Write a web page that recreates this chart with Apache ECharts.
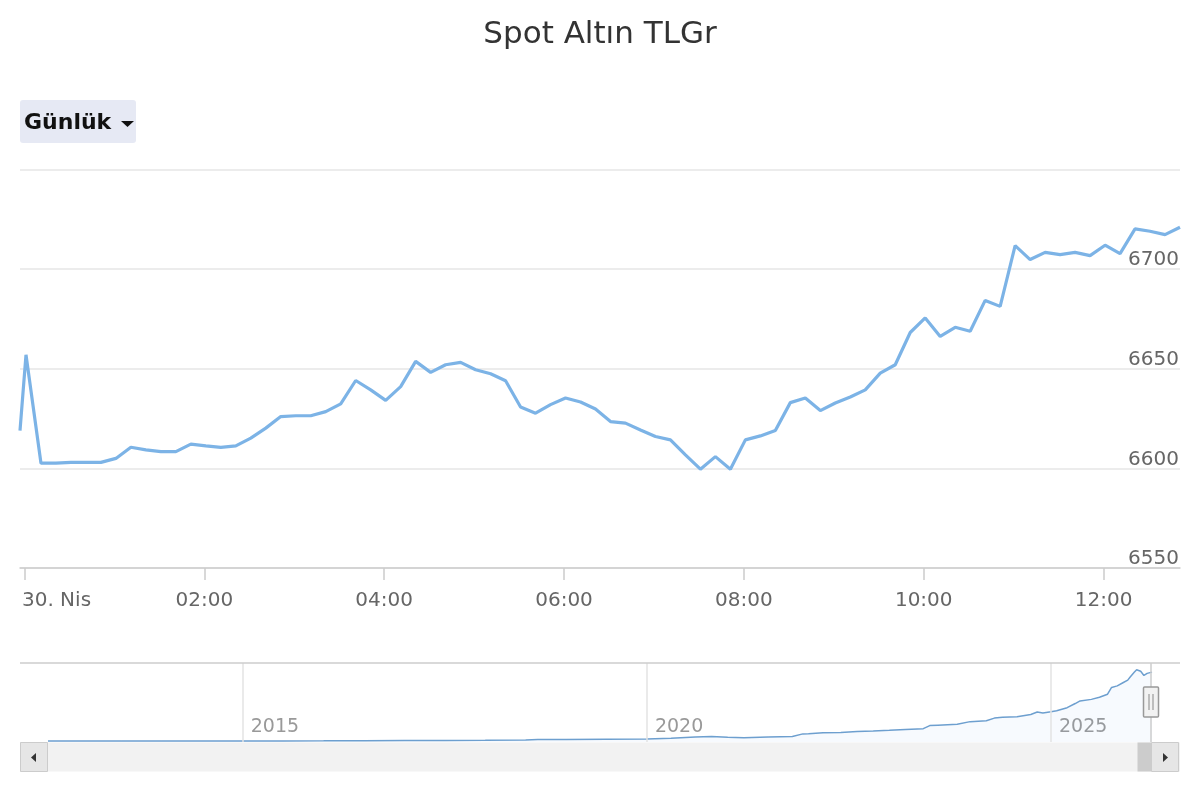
<!DOCTYPE html>
<html>
<head>
<meta charset="utf-8">
<script src="https://cdn.jsdelivr.net/npm/echarts@6/dist/echarts.min.js"></script>
<style>
  html, body { margin: 0; padding: 0; background: #ffffff; }
  #chart { width: 1200px; height: 800px; }
</style>
</head>
<body>
<div id="chart"></div>
<script>
// ---------- Data ----------
const chartTitle = 'Spot Altın TLGr';
const rangeButtonLabel = 'Günlük';

// intraday times (30 Nisan), 10-minute steps
const times = [
  '23:57',
  '00:01','00:11','00:21','00:31','00:41','00:51',
  '01:01','01:11','01:21','01:31','01:41','01:51',
  '02:01','02:11','02:21','02:31','02:41','02:51',
  '03:01','03:11','03:21','03:31','03:41','03:51',
  '04:01','04:11','04:21','04:31','04:41','04:51',
  '05:01','05:11','05:21','05:31','05:41','05:51',
  '06:01','06:11','06:21','06:31','06:41','06:51',
  '07:01','07:11','07:21','07:31','07:41','07:51',
  '08:01','08:11','08:21','08:31','08:41','08:51',
  '09:01','09:11','09:21','09:31','09:41','09:51',
  '10:01','10:11','10:21','10:31','10:41','10:51',
  '11:01','11:11','11:21','11:31','11:41','11:51',
  '12:01','12:11','12:21','12:31','12:41','12:51'
];
const prices = [
  6619,
  6657, 6602.6, 6602.6, 6603, 6603, 6603,
  6605, 6610.6, 6609.3, 6608.4, 6608.4, 6612.2,
  6611.3, 6610.5, 6611.3, 6615.2, 6620.2, 6626,
  6626.4, 6626.4, 6628.5, 6632.4, 6644.1, 6639.4,
  6634.1, 6641, 6653.7, 6648.2, 6652, 6653.2,
  6649.5, 6647.5, 6644, 6630.8, 6627.7, 6632,
  6635.3, 6633.3, 6629.8, 6623.5, 6622.7, 6619.3,
  6616, 6614.3, 6606.8, 6599.6, 6605.9, 6599.6,
  6614.3, 6616.3, 6619, 6633, 6635.3, 6629,
  6632.8, 6635.8, 6639.4, 6647.8, 6652, 6668.2,
  6675.5, 6666.2, 6670.8, 6668.8, 6684.3, 6681.3,
  6711.8, 6704.8, 6708.4, 6707.3, 6708.4, 6706.8,
  6712, 6707.8, 6720.2, 6719, 6717.3, 6721
];
const xTickTimes = ['00:00','02:00','04:00','06:00','08:00','10:00','12:00'];
const firstTickLabel = '30. Nis';
const yTicks = [6550, 6600, 6650, 6700, 6750];

// long-term navigator series (decimal years, TL/gram)
const navYears = [
  2012.59, 2013.0, 2013.5, 2014.0, 2014.5, 2015.0, 2015.5, 2016.0, 2016.5, 2017.0,
  2017.5, 2018.0, 2018.5, 2018.65, 2019.0, 2019.5, 2020.0, 2020.3, 2020.6, 2020.8,
  2021.0, 2021.2, 2021.5, 2021.8, 2021.93, 2022.0, 2022.18, 2022.4, 2022.6, 2022.8,
  2023.0, 2023.2, 2023.42, 2023.5, 2023.6, 2023.84, 2024.0, 2024.2, 2024.3, 2024.4,
  2024.58, 2024.75, 2024.83, 2024.9, 2025.0, 2025.07, 2025.2, 2025.3, 2025.36, 2025.5,
  2025.6, 2025.7, 2025.75, 2025.82, 2025.89, 2025.95, 2025.98, 2026.03, 2026.06, 2026.08,
  2026.11, 2026.15, 2026.19, 2026.25
];
const navValues = [
  100, 105, 95, 90, 92, 95, 100, 110, 130, 145,
  150, 165, 200, 250, 230, 270, 300, 360, 480, 520,
  450, 420, 470, 520, 780, 800, 900, 920, 1000, 1050,
  1120, 1200, 1280, 1580, 1620, 1700, 1960, 2050, 2300, 2380,
  2420, 2650, 2880, 2780, 2900, 3000, 3300, 3700, 3950, 4100,
  4300, 4600, 5250, 5400, 5700, 5950, 6250, 6700, 6950, 6980,
  6800, 6400, 6600, 6720
];
const navYearTicks = [2015, 2020, 2025];

// ---------- Helpers ----------
function toMinutes(t) {
  const p = t.split(':').map(Number);
  let m = p[0] * 60 + p[1];
  if (p[0] >= 20) m -= 1440; // previous day
  return m;
}
const mainData = times.map((t, i) => [toMinutes(t), prices[i]]);
const navData = navYears.map((y, i) => [y, navValues[i]]);
const xTickValues = xTickTimes.map(toMinutes);

const FONT = '"DejaVu Sans", "Lucida Grande", Arial, sans-serif';
const chart = echarts.init(document.getElementById('chart'), null, { renderer: 'canvas' });

const option = {
  animation: false,
  backgroundColor: '#ffffff',
  title: {
    text: chartTitle,
    left: 'center',
    top: 19,
    padding: 0,
    textStyle: { fontFamily: FONT, fontSize: 31, fontWeight: 'normal', color: '#333333' }
  },
  grid: [
    { left: 20, right: 20, top: 169.5, bottom: 232 },
    { left: 48, right: 48, top: 663, height: 79 }
  ],
  xAxis: [
    {
      type: 'value',
      gridIndex: 0,
      min: toMinutes(times[0]),
      max: toMinutes(times[times.length - 1]),
      axisLine: { show: true, lineStyle: { color: '#cccccc', width: 1.5 } },
      axisTick: { show: true, customValues: xTickValues, length: 12, lineStyle: { color: '#cccccc', width: 1.5 } },
      splitLine: { show: false },
      axisLabel: {
        customValues: xTickValues,
        margin: 23,
        color: '#666666',
        fontFamily: FONT,
        fontSize: 20,
        formatter: function (v) {
          if (v === 0) return '{first|' + firstTickLabel + '}';
          const h = Math.round(v / 60);
          return (h < 10 ? '0' + h : '' + h) + ':00';
        },
        rich: {
          first: { color: '#666666', fontFamily: FONT, fontSize: 20, padding: [0, 0, 0, 64] }
        }
      }
    },
    {
      type: 'value',
      gridIndex: 1,
      min: navYears[0],
      max: navYears[navYears.length - 1],
      axisLine: { show: false },
      axisTick: { show: false },
      splitLine: { show: false },
      axisLabel: {
        customValues: navYearTicks,
        inside: true,
        margin: 5,
        align: 'left',
        verticalAlign: 'bottom',
        padding: [0, 0, 0, 8],
        color: '#999999',
        fontFamily: FONT,
        fontSize: 19,
        formatter: function (v) { return String(Math.round(v)); }
      }
    }
  ],
  yAxis: [
    {
      type: 'value',
      gridIndex: 0,
      position: 'right',
      min: yTicks[0],
      max: yTicks[yTicks.length - 1],
      interval: 50,
      axisLine: { show: false },
      axisTick: { show: false },
      splitLine: { show: true, lineStyle: { color: '#e6e6e6', width: 1.5 } },
      axisLabel: {
        inside: true,
        margin: 1,
        verticalAlign: 'bottom',
        lineHeight: 18,
        color: '#666666',
        fontFamily: FONT,
        fontSize: 20,
        formatter: function (v) { return v === yTicks[yTicks.length - 1] ? '' : String(v); }
      }
    },
    {
      type: 'value',
      gridIndex: 1,
      min: 0,
      max: 7600,
      show: false,
      splitLine: { show: false }
    }
  ],
  series: [
    {
      type: 'line',
      xAxisIndex: 0,
      yAxisIndex: 0,
      data: mainData,
      showSymbol: false,
      symbol: 'none',
      lineStyle: { color: '#7cb3e6', width: 3.2 },
      itemStyle: { color: '#7cb3e6' },
      clip: true
    },
    {
      type: 'line',
      xAxisIndex: 1,
      yAxisIndex: 1,
      data: navData,
      showSymbol: false,
      symbol: 'none',
      lineStyle: { color: '#6d9fcf', width: 1.5 },
      areaStyle: { color: 'rgba(124,181,236,0.09)' },
      markLine: {
        silent: true,
        symbol: 'none',
        label: { show: false },
        lineStyle: { color: '#e3e3e3', width: 1.5, type: 'solid' },
        data: navYearTicks.map(y => ({ xAxis: y }))
      }
    }
  ],
  graphic: [
    // range selector dropdown
    { type: 'rect', shape: { x: 20, y: 100, width: 116, height: 43, r: 3 }, style: { fill: '#e6e9f4' } },
    { type: 'text', x: 24, y: 123, style: { text: rangeButtonLabel, fill: '#111111', font: 'bold 22px ' + FONT, textVerticalAlign: 'middle' } },
    { type: 'polygon', shape: { points: [[121, 121], [134, 121], [127.5, 127]] }, style: { fill: '#111111' } },
    // navigator outline
    { type: 'line', z: 50, shape: { x1: 20, y1: 663, x2: 1180, y2: 663 }, style: { stroke: '#cccccc', lineWidth: 1.5 } },
    { type: 'line', z: 50, shape: { x1: 1151, y1: 663, x2: 1151, y2: 742 }, style: { stroke: '#cccccc', lineWidth: 1.5 } },
    // scrollbar
    { type: 'rect', z: 50, shape: { x: 20, y: 742.5, width: 1160, height: 29 }, style: { fill: '#f2f2f2' } },
    { type: 'rect', z: 51, shape: { x: 1137.5, y: 742.5, width: 13.5, height: 29 }, style: { fill: '#cccccc' } },
    { type: 'rect', z: 51, shape: { x: 20.5, y: 742.5, width: 27, height: 29 }, style: { fill: '#e6e6e6', stroke: '#cccccc', lineWidth: 1 } },
    { type: 'polygon', z: 52, shape: { points: [[31, 757.5], [36, 753], [36, 762]] }, style: { fill: '#333333' } },
    { type: 'rect', z: 51, shape: { x: 1151.5, y: 742.5, width: 27, height: 29 }, style: { fill: '#e6e6e6', stroke: '#cccccc', lineWidth: 1 } },
    { type: 'polygon', z: 52, shape: { points: [[1168, 757.5], [1163, 753], [1163, 762]] }, style: { fill: '#333333' } },
    // navigator handle
    { type: 'rect', z: 60, shape: { x: 1143.5, y: 687, width: 15, height: 30, r: 1 }, style: { fill: '#f2f2f2', stroke: '#999999', lineWidth: 1.5 } },
    { type: 'line', z: 61, shape: { x1: 1149, y1: 694, x2: 1149, y2: 710 }, style: { stroke: '#999999', lineWidth: 1.2 } },
    { type: 'line', z: 61, shape: { x1: 1153, y1: 694, x2: 1153, y2: 710 }, style: { stroke: '#999999', lineWidth: 1.2 } }
  ]
};

chart.setOption(option);
</script>
</body>
</html>
